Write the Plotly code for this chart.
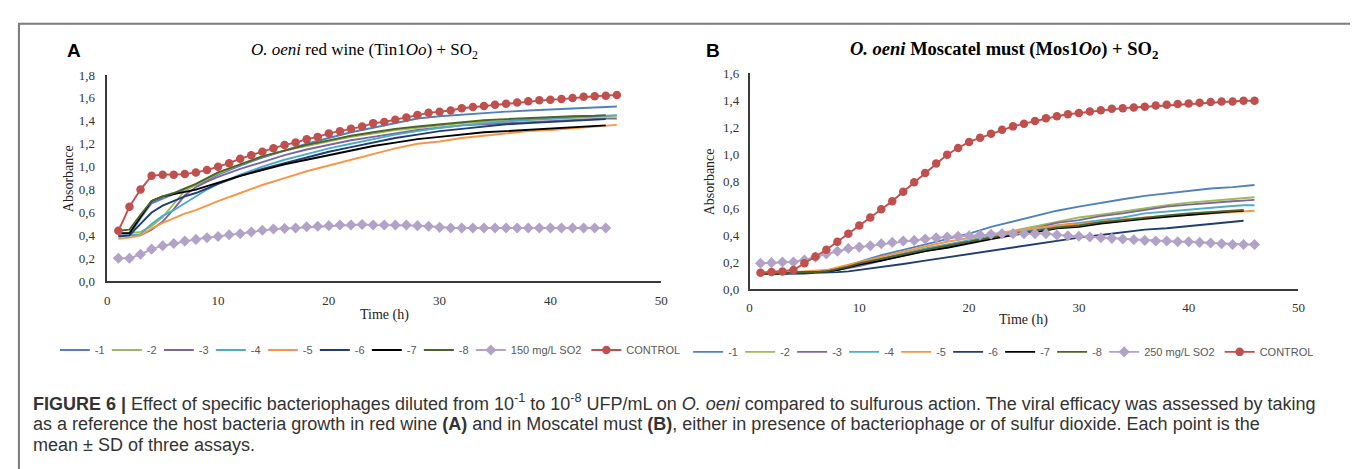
import plotly.graph_objects as go

W, H = 1358, 469

# ---------------- data ----------------
X_HOURS = list(range(1, 47))
X_LINE = [1, 2, 3, 4, 5, 6, 7, 8, 9, 10, 12, 14, 16, 18, 20, 22, 24, 26, 28, 30,
          32, 34, 36, 38, 40, 42, 44, 45, 46]

LINE_NAMES = ["-1", "-2", "-3", "-4", "-5", "-6", "-7", "-8"]
LINE_COLORS = ["#4F81BD", "#9BBB59", "#8064A2", "#4BACC6", "#F79646", "#1F3E6E", "#000000", "#4F6228"]
SO2_COLOR = "#B3A2C7"
CONTROL_COLOR = "#C0504D"

# Panel A: red wine (Tin1Oo)
A_LINES = [
    [0.40, 0.40, 0.55, 0.68, 0.72, 0.76, 0.80, 0.84, 0.88, 0.93, 1.01, 1.08, 1.14, 1.20, 1.25, 1.30, 1.34, 1.38, 1.42, 1.44, 1.455, 1.47, 1.48, 1.49, 1.50, 1.51, 1.515, 1.52, 1.525],
    [0.42, 0.42, 0.43, 0.48, 0.56, 0.68, 0.79, 0.84, 0.89, 0.94, 1.02, 1.09, 1.14, 1.18, 1.22, 1.26, 1.29, 1.32, 1.34, 1.36, 1.38, 1.39, 1.40, 1.41, 1.42, 1.43, 1.435, 1.44, 1.445],
    [0.40, 0.40, 0.40, 0.45, 0.52, 0.63, 0.75, 0.82, 0.87, 0.91, 0.98, 1.04, 1.10, 1.15, 1.19, 1.23, 1.26, 1.29, 1.32, 1.34, 1.36, 1.37, 1.38, 1.39, 1.40, 1.41, 1.415, 1.42, 1.42],
    [0.40, 0.40, 0.41, 0.50, 0.57, 0.62, 0.68, 0.74, 0.80, 0.85, 0.93, 1.00, 1.06, 1.11, 1.16, 1.20, 1.24, 1.28, 1.31, 1.34, 1.36, 1.38, 1.395, 1.41, 1.42, 1.43, 1.44, 1.45, 1.45],
    [0.37, 0.38, 0.40, 0.46, 0.51, 0.55, 0.59, 0.62, 0.66, 0.70, 0.77, 0.84, 0.90, 0.96, 1.01, 1.06, 1.11, 1.16, 1.20, 1.22, 1.25, 1.27, 1.29, 1.31, 1.32, 1.335, 1.35, 1.36, 1.365],
    [0.39, 0.40, 0.50, 0.60, 0.66, 0.70, 0.74, 0.77, 0.81, 0.85, 0.92, 0.98, 1.03, 1.08, 1.13, 1.17, 1.21, 1.25, 1.28, 1.31, 1.33, 1.35, 1.37, 1.38, 1.39, 1.40, 1.41, 1.415, None],
    [0.42, 0.42, 0.56, 0.70, 0.74, 0.76, 0.78, 0.80, 0.83, 0.86, 0.92, 0.97, 1.02, 1.06, 1.10, 1.14, 1.18, 1.21, 1.24, 1.26, 1.28, 1.30, 1.31, 1.32, 1.33, 1.34, 1.35, 1.36, None],
    [0.44, 0.45, 0.58, 0.70, 0.74, 0.77, 0.81, 0.85, 0.90, 0.95, 1.02, 1.09, 1.14, 1.19, 1.23, 1.27, 1.30, 1.33, 1.35, 1.37, 1.39, 1.405, 1.415, 1.425, 1.43, 1.44, 1.445, 1.45, None],
]
A_SO2_NAME = "150 mg/L SO2"
A_SO2 = [0.20, 0.20, 0.235, 0.28, 0.31, 0.33, 0.35, 0.365, 0.38, 0.39, 0.405, 0.415, 0.43, 0.445, 0.455,
         0.46, 0.465, 0.475, 0.48, 0.485, 0.49, 0.49, 0.495, 0.49, 0.49, 0.49, 0.49, 0.485, 0.48, 0.47,
         0.465, 0.465, 0.465, 0.465, 0.465, 0.465, 0.465, 0.465, 0.465, 0.465, 0.465, 0.465, 0.465, 0.465, 0.465, None]
A_CONTROL = [0.44, 0.65, 0.80, 0.92, 0.93, 0.93, 0.935, 0.95, 0.97, 1.00, 1.03, 1.07, 1.10, 1.13, 1.16,
             1.19, 1.21, 1.24, 1.26, 1.29, 1.31, 1.33, 1.35, 1.38, 1.39, 1.41, 1.43, 1.45, 1.47, 1.48,
             1.49, 1.51, 1.52, 1.53, 1.54, 1.55, 1.56, 1.57, 1.58, 1.585, 1.59, 1.60, 1.61, 1.615, 1.62, 1.625]

# Panel B: Moscatel must (Mos1Oo)
B_LINES = [
    [0.12, 0.12, 0.12, 0.12, 0.125, 0.13, 0.135, 0.15, 0.175, 0.20, 0.25, 0.29, 0.33, 0.37, 0.41, 0.46, 0.50, 0.545, 0.58, 0.61, 0.64, 0.665, 0.69, 0.71, 0.73, 0.745, 0.755, 0.765, 0.77],
    [0.11, 0.11, 0.115, 0.12, 0.12, 0.125, 0.13, 0.14, 0.16, 0.18, 0.22, 0.26, 0.29, 0.32, 0.36, 0.39, 0.43, 0.465, 0.50, 0.53, 0.55, 0.575, 0.60, 0.62, 0.64, 0.655, 0.67, 0.675, 0.68],
    [0.11, 0.11, 0.115, 0.12, 0.12, 0.125, 0.13, 0.14, 0.155, 0.17, 0.21, 0.25, 0.28, 0.31, 0.345, 0.38, 0.42, 0.45, 0.49, 0.51, 0.54, 0.56, 0.585, 0.61, 0.625, 0.64, 0.65, 0.655, 0.66],
    [0.11, 0.11, 0.115, 0.12, 0.12, 0.125, 0.13, 0.145, 0.165, 0.18, 0.225, 0.265, 0.30, 0.33, 0.36, 0.39, 0.42, 0.44, 0.47, 0.49, 0.51, 0.53, 0.56, 0.575, 0.59, 0.60, 0.615, 0.62, 0.62],
    [0.11, 0.115, 0.12, 0.12, 0.125, 0.13, 0.14, 0.16, 0.18, 0.20, 0.24, 0.28, 0.315, 0.35, 0.38, 0.405, 0.43, 0.45, 0.47, 0.48, 0.50, 0.515, 0.53, 0.54, 0.555, 0.565, 0.575, 0.58, 0.58],
    [0.11, 0.11, 0.11, 0.115, 0.115, 0.12, 0.12, 0.125, 0.13, 0.14, 0.16, 0.185, 0.21, 0.235, 0.26, 0.285, 0.31, 0.33, 0.36, 0.38, 0.40, 0.42, 0.44, 0.45, 0.465, 0.48, 0.495, 0.505, None],
    [0.11, 0.11, 0.115, 0.12, 0.12, 0.125, 0.13, 0.14, 0.16, 0.18, 0.21, 0.245, 0.28, 0.305, 0.34, 0.37, 0.40, 0.42, 0.45, 0.46, 0.485, 0.505, 0.52, 0.535, 0.55, 0.565, 0.575, 0.58, None],
    [0.11, 0.11, 0.115, 0.12, 0.12, 0.125, 0.13, 0.145, 0.165, 0.19, 0.225, 0.26, 0.29, 0.32, 0.35, 0.38, 0.41, 0.43, 0.455, 0.47, 0.495, 0.51, 0.53, 0.545, 0.56, 0.57, 0.58, 0.585, None],
]
B_SO2_NAME = "250 mg/L SO2"
B_SO2 = [0.19, 0.195, 0.20, 0.20, 0.215, 0.235, 0.26, 0.28, 0.30, 0.31, 0.32, 0.335, 0.345, 0.355, 0.36,
         0.37, 0.38, 0.385, 0.39, 0.395, 0.40, 0.405, 0.41, 0.41, 0.41, 0.41, 0.41, 0.40, 0.395, 0.39,
         0.385, 0.38, 0.375, 0.37, 0.365, 0.36, 0.355, 0.355, 0.35, 0.35, 0.345, 0.34, 0.335, 0.33, 0.33, 0.33]
B_CONTROL = [0.12, 0.125, 0.13, 0.14, 0.19, 0.24, 0.29, 0.35, 0.41, 0.47, 0.53, 0.59, 0.65, 0.72, 0.79,
             0.86, 0.93, 0.995, 1.045, 1.09, 1.12, 1.15, 1.18, 1.205, 1.225, 1.245, 1.265, 1.28, 1.295, 1.305,
             1.315, 1.325, 1.335, 1.34, 1.345, 1.35, 1.36, 1.365, 1.37, 1.375, 1.38, 1.385, 1.39, 1.39, 1.395, 1.395]

# ---------------- figure ----------------
SERIF = "Liberation Serif, Times New Roman, serif"
NARROW = "Liberation Sans Narrow, Arial Narrow, Liberation Sans, sans-serif"
SANS = "Liberation Sans, Arial, sans-serif"


def px(x):
    return x / W


def py(y):
    return 1 - y / H


fig = go.Figure()


def add_panel(lines, so2, so2_name, control, xa, ya, legend):
    for name, color, vals in zip(LINE_NAMES, LINE_COLORS, lines):
        fig.add_trace(go.Scatter(x=X_LINE, y=vals, mode="lines", name=name,
                                 line=dict(color=color, width=1.9), legendwidth=7,
                                 xaxis=xa, yaxis=ya, legend=legend, connectgaps=False))
    fig.add_trace(go.Scatter(x=X_HOURS, y=so2, mode="lines+markers", name=so2_name,
                             line=dict(color=SO2_COLOR, width=1.9),
                             marker=dict(symbol="diamond", size=8.5, color=SO2_COLOR),
                             xaxis=xa, yaxis=ya, legend=legend))
    fig.add_trace(go.Scatter(x=X_HOURS, y=control, mode="lines+markers", name="CONTROL",
                             line=dict(color=CONTROL_COLOR, width=1.9),
                             marker=dict(symbol="circle", size=8.5, color=CONTROL_COLOR),
                             xaxis=xa, yaxis=ya, legend=legend))


add_panel(A_LINES, A_SO2, A_SO2_NAME, A_CONTROL, "x", "y", "legend")
add_panel(B_LINES, B_SO2, B_SO2_NAME, B_CONTROL, "x2", "y2", "legend2")

axis_common = dict(showline=True, linecolor="#3a3a3a", linewidth=1.5, showgrid=False,
                   zeroline=False, ticks="", tickfont=dict(family=SERIF, size=13, color="#333333"),
                   fixedrange=True)

legend_common = dict(orientation="h", yanchor="middle", xanchor="center",
                     font=dict(family=NARROW, size=11, color="#595959"), itemwidth=30,
                     bgcolor="rgba(0,0,0,0)", tracegroupgap=0)

fig.update_layout(
    width=W, height=H,
    margin=dict(l=0, r=0, t=0, b=0),
    paper_bgcolor="white", plot_bgcolor="white",
    separators=", ",
    xaxis=dict(domain=[px(97), px(655)], range=[0, 50], dtick=10, anchor="y",
               ticklabelstandoff=6, **axis_common),
    yaxis=dict(domain=[py(275), py(62)], range=[0, 1.8], dtick=0.2, tickformat=".1f", anchor="x",
               ticklabelstandoff=8, **axis_common),
    xaxis2=dict(domain=[px(744), px(1297)], range=[0, 50], dtick=10, anchor="y2",
                ticklabelstandoff=6, **axis_common),
    yaxis2=dict(domain=[py(283), py(60)], range=[0, 1.6], dtick=0.2, tickformat=".1f", anchor="x2",
                ticklabelstandoff=6, **axis_common),
    legend=dict(x=px(362), y=py(346), **legend_common),
    legend2=dict(x=px(1000), y=py(348), **legend_common),
    shapes=[dict(type="rect", xref="paper", yref="paper", x0=px(8), x1=px(1355), y0=-0.1, y1=py(9),
                 line=dict(color="#7a7a7a", width=2), fillcolor="rgba(0,0,0,0)", layer="below")],
)

ann = []
ann.append(dict(text="<b>A</b>", x=px(54), y=py(37), xanchor="left", yanchor="middle",
                font=dict(family=SANS, size=19, color="black")))
ann.append(dict(text="<b>B</b>", x=px(698), y=py(37), xanchor="left", yanchor="middle",
                font=dict(family=SANS, size=19, color="black")))
ann.append(dict(text="<i>O. oeni</i> red wine (Tin1<i>Oo</i>) + SO<sub>2</sub>", x=px(356), y=py(37),
                xanchor="center", yanchor="middle", font=dict(family=SERIF, size=17, color="black")))
ann.append(dict(text="<b><i>O. oeni</i> Moscatel must (Mos1<i>Oo</i>) + SO<sub>2</sub></b>", x=px(1000), y=py(37),
                xanchor="center", yanchor="middle", font=dict(family=SERIF, size=18.5, color="black")))
for xa, yc in ((58, 169), (704, 172)):
    ann.append(dict(text="Absorbance", x=px(xa), y=py(yc), xanchor="center", yanchor="middle",
                    textangle=-90, font=dict(family=SERIF, size=14, color="#222222")))
ann.append(dict(text="Time (h)", x=px(376), y=py(310), xanchor="center", yanchor="middle",
                font=dict(family=SERIF, size=14, color="#222222")))
ann.append(dict(text="Time (h)", x=px(1020), y=py(315), xanchor="center", yanchor="middle",
                font=dict(family=SERIF, size=14, color="#222222")))

caption = [
    "<b>FIGURE 6 |</b> Effect of specific bacteriophages diluted from 10<sup>-1</sup> to 10<sup>-8</sup> UFP/mL on <i>O. oeni</i> compared to sulfurous action. The viral efficacy was assessed by taking",
    "as a reference the host bacteria growth in red wine <b>(A)</b> and in Moscatel must <b>(B)</b>, either in presence of bacteriophage or of sulfur dioxide. Each point is the",
    "mean ± SD of three assays.",
]
for txt, yc in zip(caption, (400, 422, 444)):
    ann.append(dict(text=txt, x=px(20), y=py(yc), xanchor="left", yanchor="middle",
                    font=dict(family=NARROW, size=18, color="#333333")))

for a in ann:
    a.update(xref="paper", yref="paper", showarrow=False)
fig.update_layout(annotations=ann)

fig.write_html("out.html")
